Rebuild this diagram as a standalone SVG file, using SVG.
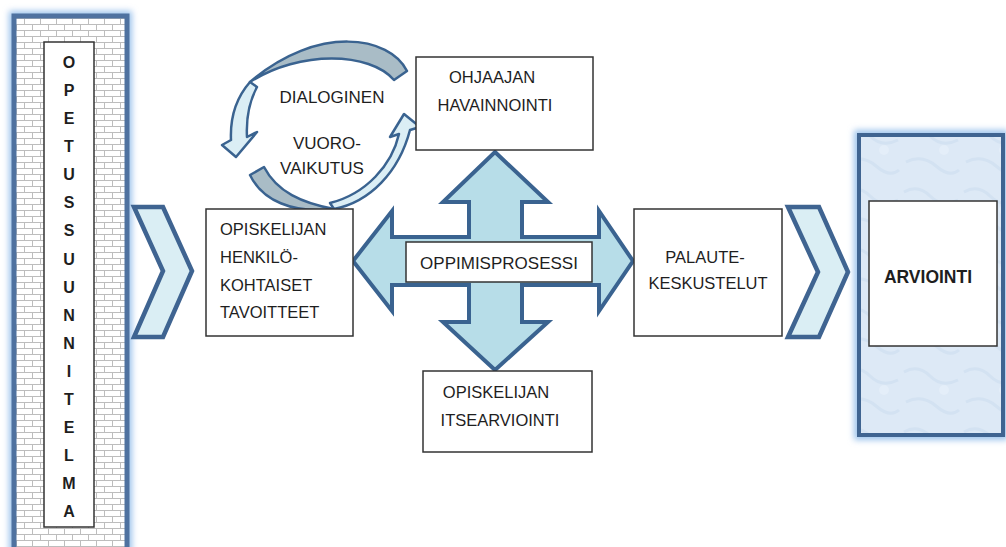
<svg xmlns="http://www.w3.org/2000/svg" width="1006" height="547" viewBox="0 0 1006 547">
<defs>
<pattern id="brick" x="0" y="0" width="16" height="12" patternUnits="userSpaceOnUse">
<rect width="16" height="12" fill="#ffffff"/>
<path d="M0,0.5 H16 M0,6.5 H16 M0.5,0 V6 M8.5,6 V12" stroke="#bdbdbd" stroke-width="1" fill="none"/>
</pattern>
<pattern id="frost" x="0" y="0" width="60" height="60" patternUnits="userSpaceOnUse">
<rect width="60" height="60" fill="#dde9f6"/>
<path d="M4,12 Q18,4 30,16 T58,20 M6,42 Q22,34 36,46 T59,50" stroke="#d3e2f2" stroke-width="3" fill="none"/>
<circle cx="44" cy="30" r="5" fill="#e4eef9"/>
</pattern>
<filter id="glow" x="-20%" y="-20%" width="140%" height="140%">
<feGaussianBlur stdDeviation="3"/>
</filter>
<style>
.txt{font-family:"Liberation Sans",Arial,sans-serif;font-size:16.5px;fill:#1e1e1e}
.box{fill:#ffffff;stroke:#333333;stroke-width:1.5}
.chev{fill:#daeef4;stroke:#3f6491;stroke-width:4.5;stroke-linejoin:miter}
.ring{stroke:#3a6390;stroke-width:2.5;stroke-linejoin:round}
.gray{fill:#a9bcc6}
.light{fill:#dbeef5}
</style>
</defs>

<g id="opetussuunnitelma">
<rect x="14" y="16" width="113" height="560" fill="none" stroke="#9cc3ec" stroke-width="10" filter="url(#glow)"/>
<rect x="14" y="16" width="113" height="560" fill="url(#brick)" stroke="#4f72a0" stroke-width="5"/>
<rect x="44" y="42" width="50" height="485" class="box"/>
<text class="txt" style="font-weight:bold;font-size:16px" text-anchor="middle">
<tspan x="69" y="68">O</tspan><tspan x="69" y="96">P</tspan><tspan x="69" y="124">E</tspan><tspan x="69" y="152">T</tspan><tspan x="69" y="180">U</tspan><tspan x="69" y="208">S</tspan><tspan x="69" y="236">S</tspan><tspan x="69" y="265">U</tspan><tspan x="69" y="293">U</tspan><tspan x="69" y="321">N</tspan><tspan x="69" y="349">N</tspan><tspan x="69" y="377">I</tspan><tspan x="69" y="405">T</tspan><tspan x="69" y="433">E</tspan><tspan x="69" y="461">L</tspan><tspan x="69" y="489">M</tspan><tspan x="69" y="517">A</tspan>
</text>
</g>

<g id="connectors">
<path id="chevron-left" class="chev" d="M134,207 L163,207 L192,271 L163,337 L134,337 L163,271 Z"/>
<path id="chevron-right" class="chev" d="M788,207 L819,207 L848,272 L819,337 L788,337 L818,272 Z"/>
<path id="cross-arrow" d="M495,152 L548,202 L522,202 L522,237 L599,237 L599,211 L633,261 L599,311 L599,285 L522,285 L522,322 L548,322 L495,370 L443,322 L469,322 L469,285 L392,285 L392,311 L353,261 L392,211 L392,237 L469,237 L469,202 L443,202 Z" fill="#b7dde8" stroke="#3a6390" stroke-width="4" stroke-linejoin="miter"/>
<g id="cycle-arrows">
<path class="ring gray" d="M407,71 C390,36 318,24 250,82 C300,50 370,52 394,80 Z"/>
<path class="ring light" d="M250,82 C236,98 230,118 231,140 L222,145 L236,157 L257,132 L247,137 C246,118 250,100 257,87 Z"/>
<path class="ring gray" d="M250,175 C262,200 292,214 334,209 C302,203 277,192 264,167 Z"/>
<path class="ring light" d="M334,209 C370,202 399,172 410,130 L420,127 L404,114 L390,137 L399,134 C392,165 366,194 330,203 Z"/>
</g>
</g>

<g id="dialoginen">
<text class="txt" x="332" y="103" text-anchor="middle" style="font-size:17px">DIALOGINEN</text>
<text class="txt" x="327" y="149" text-anchor="middle" style="font-size:17px">VUORO-</text>
<text class="txt" x="322" y="174" text-anchor="middle" style="font-size:17px">VAIKUTUS</text>
</g>

<g id="ohjaajan">
<rect x="416" y="57" width="177" height="93" class="box"/>
<text class="txt" x="492" y="83" text-anchor="middle">OHJAAJAN</text>
<text class="txt" x="495" y="111" text-anchor="middle">HAVAINNOINTI</text>
</g>

<g id="opiskelijan-tavoitteet">
<rect x="206" y="209" width="147" height="127" class="box"/>
<text class="txt" x="220" y="235">OPISKELIJAN</text>
<text class="txt" x="220" y="263">HENKILÖ-</text>
<text class="txt" x="220" y="291">KOHTAISET</text>
<text class="txt" x="220" y="318">TAVOITTEET</text>
</g>

<g id="oppimisprosessi">
<rect x="406" y="242" width="186" height="40" class="box"/>
<text class="txt" x="499" y="269" text-anchor="middle" style="font-size:17px">OPPIMISPROSESSI</text>
</g>

<g id="itsearviointi">
<rect x="423" y="371" width="169" height="81" class="box"/>
<text class="txt" x="496" y="398" text-anchor="middle">OPISKELIJAN</text>
<text class="txt" x="500" y="426" text-anchor="middle">ITSEARVIOINTI</text>
</g>

<g id="palaute">
<rect x="634" y="209" width="148" height="127" class="box"/>
<text class="txt" x="705" y="263" text-anchor="middle">PALAUTE-</text>
<text class="txt" x="708" y="289" text-anchor="middle">KESKUSTELUT</text>
</g>

<g id="arviointi">
<rect x="859" y="135" width="144" height="300" fill="none" stroke="#9cc3ec" stroke-width="10" filter="url(#glow)"/>
<rect x="859" y="135" width="144" height="300" fill="url(#frost)" stroke="#3f6491" stroke-width="4"/>
<rect x="869" y="201" width="128" height="145" class="box"/>
<text class="txt" x="928" y="283" text-anchor="middle" style="font-weight:bold;font-size:17.5px">ARVIOINTI</text>
</g>
</svg>
